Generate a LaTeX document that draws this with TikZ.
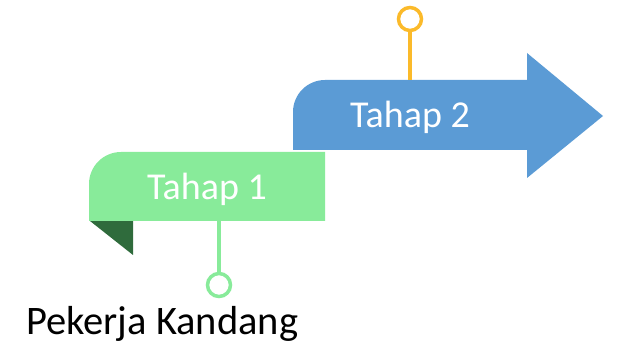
\documentclass[tikz,border=0pt]{standalone}
\usepackage{fontspec}
\setmainfont{Carlito}
\definecolor{lgreen}{HTML}{88EB9A}
\definecolor{dgreen}{HTML}{2F6B3C}
\definecolor{sblue}{HTML}{5B9BD5}
\definecolor{sorange}{HTML}{FBBA2A}
\begin{document}
\begin{tikzpicture}[x=1pt,y=-1pt,
  steplabel/.style={text=white,font=\fontsize{38}{40}\selectfont,inner sep=0pt,anchor=base},
  pin/.style={circle,draw,line width=3.5pt,fill=white,minimum size=23pt,inner sep=0pt},
  pinline/.style={line width=3.5pt}]
\useasboundingbox (0,0) rectangle (621,344);
% blue arrow
\fill[sblue] (293,150) -- (293,112) arc[start angle=180,end angle=270,radius=32] -- (527,80) -- (527,53) -- (603,116) -- (527,178) -- (527,150) -- cycle;
% green banner
\fill[dgreen] (90,221) -- (133,221) -- (133,255) -- cycle;
\fill[lgreen] (89,221) -- (89,184) arc[start angle=180,end angle=270,radius=32] -- (325,152) -- (325,221) -- cycle;
\coordinate (g) at (219,221);
\coordinate (b) at (410,80);
\node[steplabel] (t1) at (207,200) {Tahap 1};
\node[steplabel] (t2) at (410,128) {Tahap 2};
\draw[pinline,lgreen] (g) -- (219,285);
\draw[pinline,sorange] (b) -- (410,19);
\node[pin,draw=lgreen] (c1) at (219,285) {};
\node[pin,draw=sorange] (c2) at (410,19) {};
\node[font=\fontsize{40.5}{42}\selectfont,inner sep=0pt,anchor=base west] (pk) at (26,335) {Pekerja Kandang};
\end{tikzpicture}
\end{document}
